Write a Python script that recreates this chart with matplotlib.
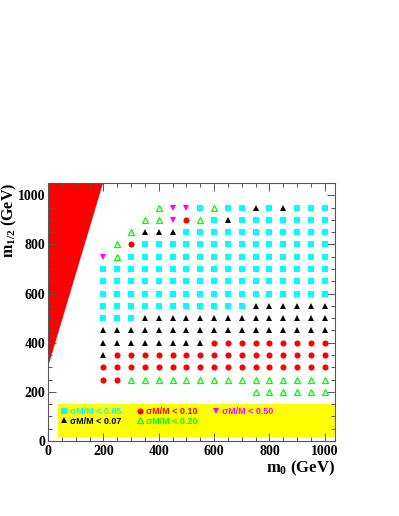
import matplotlib
matplotlib.use("Agg")
import matplotlib.pyplot as plt
import matplotlib.ticker as ticker
from matplotlib.patches import Rectangle

# scan grid (GeV)
m0_points = [200, 250, 300, 350, 400, 450, 500, 550, 600, 650, 700,
             750, 800, 850, 900, 950, 1000]
m12_points = [950, 900, 850, 800, 750, 700, 650, 600, 550, 500, 450,
              400, 350, 300, 250, 200]

# resolution class per point, one string per m1/2 row, one char per m0 column
# S: <0.05  T: <0.07  C: <0.10  G: <0.20  V: <0.50  .: none
quality_rows = [
    "....GVVSGSSTSTSSS",
    "...GGVCGSTSSSSSSS",
    "..GTTTSSSSSSSSSSS",
    ".GCSSSSSSSSSSSSSS",
    "VGSSSSSSSSSSSSSSS",
    "SSSSSSSSSSSSSSSSS",
    "SSSSSSSSSSSSSSSSS",
    "SSSSSSSSSSSSSSSSS",
    "SSSSSSSSSSSTTTTTT",
    "SSSTTTTTTTTTTTTTT",
    "TTTTTTTTTTTTTTTTT",
    "TTTTTTTTCCCCCCCCC",
    "TCCCCCCCCCCCCCCCC",
    "CCCCCCCCCCCCCCCCC",
    "CCGGGGGGGGGGGGGGG",
    "...........GGGGGG",
]

classes = ["S", "T", "C", "G", "V"]
class_labels = ["\u03c3M/M < 0.05", "\u03c3M/M < 0.07", "\u03c3M/M < 0.10",
                "\u03c3M/M < 0.20", "\u03c3M/M < 0.50"]

# theoretically excluded region
excl_m0 = [0, 0, 200]
excl_m12 = [300, 1050, 1050]

styles = {
    "S": dict(marker="s", color="#00ffff", mfc="#00ffff", ms=3.8, mew=0),
    "T": dict(marker="^", color="black", mfc="black", ms=4.6, mew=0),
    "C": dict(marker="o", color="red", mfc="red", ms=4.4, mew=0),
    "G": dict(marker="^", color="#00ff00", mfc="none", ms=4.4, mew=0.9),
    "V": dict(marker="v", color="#ff00ff", mfc="#ff00ff", ms=4.6, mew=0),
}

plt.rcParams["font.family"] = "Liberation Serif"
plt.rcParams["font.weight"] = "bold"
plt.rcParams["mathtext.fontset"] = "custom"
plt.rcParams["mathtext.rm"] = "Liberation Serif:bold"
plt.rcParams["mathtext.it"] = "Liberation Serif:bold"
plt.rcParams["mathtext.bf"] = "Liberation Serif:bold"

fig = plt.figure(figsize=(3.99, 5.16), dpi=100)
ax = fig.add_axes([48 / 399, 75 / 516, 287 / 399, 258 / 516])

ax.fill(excl_m0, excl_m12, color="red", lw=0, zorder=1)
ax.add_patch(Rectangle((35, 15), 1100, 135, color="yellow", lw=0, zorder=1))

for cls, lab in zip(classes, class_labels):
    xs, ys = [], []
    for m12, row in zip(m12_points, quality_rows):
        for m0, c in zip(m0_points, row):
            if c == cls:
                xs.append(m0)
                ys.append(m12)
    st = styles[cls]
    ax.plot(xs, ys, ls="none", marker=st["marker"], color=st["color"],
            mfc=st["mfc"], mec=st["color"], ms=st["ms"], mew=st["mew"],
            label=lab, zorder=3)

ax.set_xlim(0, 1037)
ax.set_ylim(0, 1050)

ax.xaxis.set_major_locator(ticker.MultipleLocator(200))
ax.xaxis.set_minor_locator(ticker.MultipleLocator(50))
ax.yaxis.set_major_locator(ticker.MultipleLocator(200))
ax.yaxis.set_minor_locator(ticker.MultipleLocator(50))
ax.tick_params(which="both", direction="in", top=True, right=True,
               color="#555555", width=0.7, labelsize=10)
ax.tick_params(which="major", length=6)
ax.tick_params(which="minor", length=3)
ax.tick_params(axis="x", pad=3)
ax.tick_params(axis="y", pad=2)
for sp in ax.spines.values():
    sp.set_color("#555555")
    sp.set_linewidth(0.8)

ax.set_xlabel(r"$\mathrm{m_0}$ (GeV)", fontsize=12, fontweight="bold")
ax.xaxis.set_label_coords(1.0, -0.068)
ax.xaxis.label.set_horizontalalignment("right")
ax.set_ylabel(r"$\mathrm{m_{1/2}}$ (GeV)", fontsize=11.5, fontweight="bold")
ax.yaxis.set_label_coords(-0.1, 1.0)
ax.yaxis.label.set_horizontalalignment("right")

leg = ax.legend(ncol=3, loc="upper left", bbox_to_anchor=(0.043, 0.133),
                frameon=False, borderpad=0, borderaxespad=0,
                handlelength=0.8, handletextpad=0.3, columnspacing=1.6,
                labelspacing=0.1,
                prop={"family": "Liberation Sans", "weight": "bold", "size": 6.5},
                labelcolor=["#00ffff", "black", "red", "#00ff00", "#ff00ff"])

fig.savefig("out.png", dpi=100)
